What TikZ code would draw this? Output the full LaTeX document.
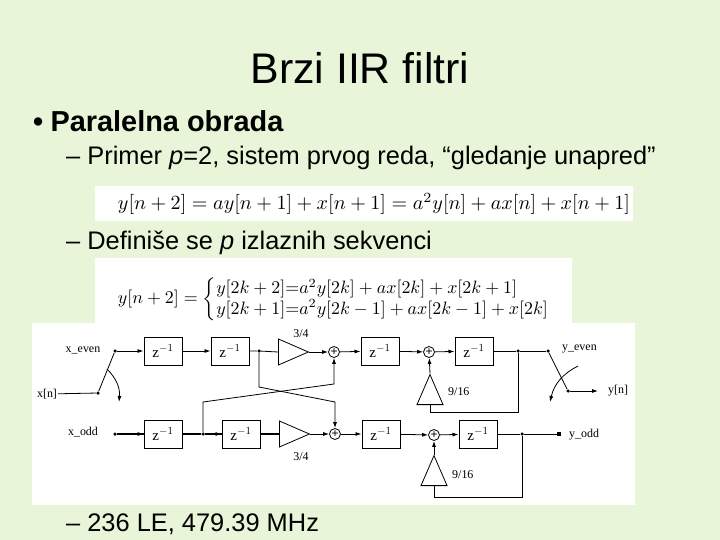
\documentclass[tikz,border=0pt]{standalone}
\usepackage{amsmath}
\usepackage{graphicx}
\usepackage{fontspec}
\setmainfont{Liberation Sans}
\newfontfamily\dgfont{Liberation Serif}
\usetikzlibrary{arrows.meta,shapes.geometric}
\definecolor{bgg}{RGB}{232,245,216}
\begin{document}
\begin{tikzpicture}[x=1bp,y=-1bp,
  dl/.style={line width=0.8bp},
  tl/.style={line width=1.7bp},
  ar/.style={-{Latex[length=6bp,width=4bp]}},
  zbox/.style={draw,line width=1bp,minimum width=38bp,minimum height=28bp,inner sep=0pt,font=\dgfont\fontsize{15}{15}\selectfont},
  addr/.style={draw,circle,line width=0.8bp,minimum size=11bp,inner sep=0pt,font=\fontsize{12}{12}\selectfont},
  dot/.style={circle,fill,inner sep=0pt,minimum size=3.5bp},
  tri/.style={draw,isosceles triangle,isosceles triangle stretches,line width=0.8bp,minimum height=30bp,minimum width=26bp,inner sep=0pt},
  lbl/.style={font=\dgfont\fontsize{12}{12}\selectfont,inner sep=1bp},
  txt/.style={anchor=west,inner sep=0pt}]
\useasboundingbox (0,0) rectangle (720,540);
\fill[bgg] (0,0) rectangle (720,540);
\node[inner sep=0pt] (title) at (360,68) {\fontsize{43}{46}\selectfont Brzi IIR filtri};
\node[txt] (b1) at (33,121) {\fontsize{29}{32}\selectfont\textbf{•\hspace{0.25em}Paralelna obrada}};
\node[txt] (b2) at (66,158) {\fontsize{25.5}{30}\selectfont – Primer \textit{p}=2, sistem prvog reda, “gledanje unapred”};
\fill[white] (95,186) rectangle (633,221);
\node[inner sep=0pt] (eq1) at (374,204) {\resizebox{512bp}{!}{$y[n+2]=ay[n+1]+x[n+1]=a^2y[n]+ax[n]+x[n+1]$}};
\node[txt] (b3) at (66,243) {\fontsize{25.5}{30}\selectfont – Definiše se \textit{p} izlaznih sekvenci};
\fill[white] (95,258) rectangle (572,325);
\node[inner sep=0pt] (eq2) at (343,299) {\resizebox{450bp}{!}{$y[n+2]=\begin{cases}y[2k+2]{=}a^2y[2k]+ax[2k]+x[2k+1]\\[-3pt] y[2k+1]{=}a^2y[2k-1]+ax[2k-1]+x[2k]\end{cases}$}};
\fill[white] (32,323) rectangle (635,505);
\node[txt] (b4) at (66,524) {\fontsize{25.5}{30}\selectfont – 236 LE, 479.39 MHz};
% top row
\node[lbl] (xe) at (83,350) {x\_even};
\node[dot] (se) at (115,351) {};
\node[lbl] (xn) at (47,394) {x[n]};
\node[dot] (sin) at (98,393) {};
\node[zbox] (z1) at (163,351) {z$^{-1}$};
\node[zbox] (z2) at (230,351) {z$^{-1}$};
\node[dot] (n1) at (259,351) {};
\node[tri,anchor=west] (g1) at (278,352) {};
\node[lbl] at (301,334) {3/4};
\node[addr] (a1) at (334,352) {+};
\node[zbox] (z3) at (380,351) {z$^{-1}$};
\node[addr] (a2) at (429,352) {+};
\node[zbox] (z4) at (474,351) {z$^{-1}$};
\node[dot] (n3) at (518,351) {};
\node[dot] (so) at (548,351) {};
\node[lbl,anchor=west] (ye) at (561,349) {y\_even};
\node[dot] (sout) at (568,391) {};
\node[lbl,anchor=west] (yn) at (607,391) {y[n]};
\coordinate (yne) at (598,391);
\node[tri,shape border rotate=90,anchor=south] (f1) at (430,405) {};
\node[lbl,anchor=west] at (447,392) {9/16};
% bottom row
\node[lbl] (xo) at (83,432) {x\_odd};
\node[dot] (sd) at (115,434) {};
\node[zbox] (z5) at (163,434) {z$^{-1}$};
\node[dot] (n2) at (203,434) {};
\node[zbox] (z6) at (241,434) {z$^{-1}$};
\node[tri,anchor=west] (g2) at (279,434) {};
\node[lbl] at (301,457) {3/4};
\node[addr] (a3) at (335,434) {+};
\node[zbox] (z7) at (381,434) {z$^{-1}$};
\node[addr] (a4) at (434,435) {+};
\node[zbox] (z8) at (478,434) {z$^{-1}$};
\node[dot] (n4) at (522,434) {};
\node[rectangle,fill,inner sep=0pt,minimum size=4bp] (yo) at (559,434) {};
\node[lbl,anchor=west] (yol) at (568,435) {y\_odd};
\node[tri,shape border rotate=90,anchor=south] (f2) at (434,486) {};
\node[lbl,anchor=west] at (451,475) {9/16};
% connections top
\draw[dl] (xn) -- (sin);
\draw[dl] (sin) -- (se);
\draw[dl,ar] (107,369) to[bend left=25] (119,402);
\draw[dl,ar] (se) -- (z1);
\draw[dl,ar] (z1) -- (z2);
\draw[dl] (z2) -- (n1) -- (g1.west);
\draw[dl,ar] (g1.apex) -- (a1);
\draw[dl,ar] (a1) -- (z3);
\draw[dl,ar] (z3) -- (a2);
\draw[dl,ar] (a2) -- (z4);
\draw[dl] (z4) -- (n3) -- (so);
\draw[dl] (so) -- (sout);
\draw[dl,ar] (sout) -- (yne);
\draw[dl,ar] (578,366) to[bend right=25] (550,402);
\draw[dl] (n3) |- (430,412) -- (f1.south);
\draw[dl,ar] (f1.apex) -- (a2);
% cross
\draw[dl,ar] (n1) -- (259,387) -- (335,402) -- (a3);
\draw[dl,ar] (n2) -- (203,402) -- (334,384) -- (a1);
% bottom
\draw[tl] (sd) -- (z5.west);
\draw[dl,ar] (sd) -- (z5);
\draw[tl] (z5) -- (n2) -- (z6.west);
\draw[dl,ar] (n2) -- (z6);
\draw[tl] (z6) -- (g2.west);
\draw[dl,ar] (g2.apex) -- (a3);
\draw[dl,ar] (a3) -- (z7);
\draw[dl,ar] (z7) -- (a4);
\draw[dl,ar] (a4) -- (z8);
\draw[dl] (z8) -- (n4) -- (yo);
\draw[dl] (n4) |- (434,497) -- (f2.south);
\draw[dl,ar] (f2.apex) -- (a4);
\end{tikzpicture}
\end{document}
